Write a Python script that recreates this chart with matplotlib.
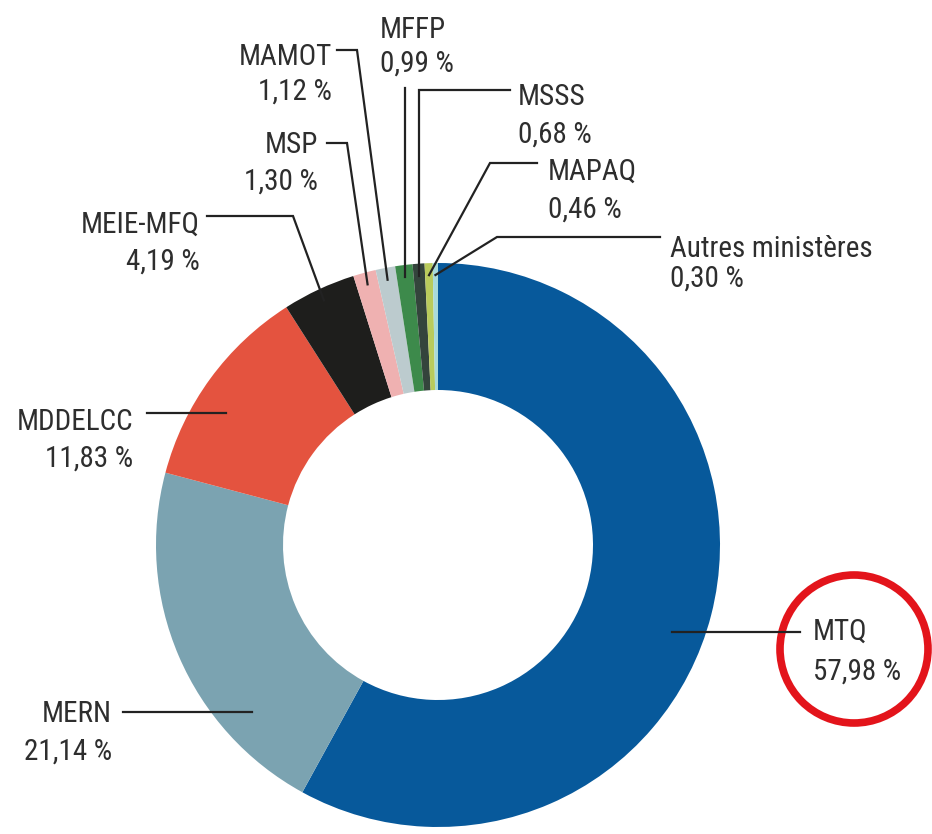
import matplotlib
matplotlib.use('Agg')
import matplotlib.pyplot as plt
from matplotlib.patches import Ellipse
import numpy as np

plt.rcParams['font.family'] = ['Roboto Condensed', 'Archivo Narrow', 'Liberation Sans', 'DejaVu Sans']

# data
ministeres = ['MTQ', 'MERN', 'MDDELCC', 'MEIE-MFQ', 'MSP', 'MAMOT',
              'MFFP', 'MSSS', 'MAPAQ', 'Autres ministères']
parts = [57.98, 21.14, 11.83, 4.19, 1.30, 1.12, 0.99, 0.68, 0.46, 0.30]
pct_labels = ['57,98 %', '21,14 %', '11,83 %', '4,19 %', '1,30 %', '1,12 %',
              '0,99 %', '0,68 %', '0,46 %', '0,30 %']
colors = ['#07599b', '#7ba3b1', '#e4533f', '#1e1e1c', '#efb1b1', '#bccbce',
          '#3d8a4b', '#34443c', '#b9cb5c', '#a9dada']

W, H = 932, 834
cx, cy = 438, H - 545
R = 282
ring = 127

fig = plt.figure(figsize=(W / 100, H / 100), dpi=100)
ax = fig.add_axes([0, 0, 1, 1])
wedges, _ = ax.pie(parts, radius=R, center=(cx, cy), startangle=90,
                   counterclock=False, colors=colors,
                   wedgeprops=dict(width=ring, edgecolor='none'))
ax.set_xlim(0, W)
ax.set_ylim(0, H)
ax.set_aspect('equal')
ax.axis('off')

# label layout (pixel positions, y from top):
# text x, baseline of name, baseline of pct, ha, leader points from text side
layout = {
    'MTQ': (813, 640, 680, 'left', [(800, 632)], 'h'),
    'MERN': (112, 722, 760, 'right', [(123, 712)], 'h'),
    'MDDELCC': (133, 430, 467, 'right', [(147, 413)], 'h'),
    'MEIE-MFQ': (200, 233, 270, 'right', [(207, 216), (293, 216)], 'a'),
    'MSP': (318, 153, 190, 'right', [(327, 143), (347, 143)], 'a'),
    'MAMOT': (332, 65, 100, 'right', [(337, 50), (357, 50)], 'a'),
    'MFFP': (380, 38, 72, 'left', [], 'v88'),
    'MSSS': (518, 105, 143, 'left', [(510, 90)], 'v90'),
    'MAPAQ': (548, 180, 218, 'left', [(537, 163), (490, 163)], 'a'),
    'Autres ministères': (670, 257, 287, 'left', [(660, 237), (497, 237)], 'a'),
}

txt_col = '#2e2e2e'
fs = 21
for w, name, pct in zip(wedges, ministeres, pct_labels):
    tx, yb1, yb2, ha, pts, kind = layout[name]
    ax.text(tx, H - yb1, name, ha=ha, va='baseline', fontsize=fs, color=txt_col)
    ax.text(tx, H - yb2, pct, ha=ha, va='baseline', fontsize=fs, color=txt_col)
    mid = np.deg2rad((w.theta1 + w.theta2) / 2)
    pts = [(x, H - y) for x, y in pts]
    if kind == 'h':
        y = pts[0][1]
        dy = y - cy
        dx = np.sqrt(250 ** 2 - dy ** 2) * np.sign(np.cos(mid))
        end = (cx + dx, y)
    else:
        end = (cx + 270 * np.cos(mid), cy + 270 * np.sin(mid))
        if kind.startswith('v'):
            ytop = H - int(kind[1:])
            pts = pts + [(end[0], ytop)]
    pts = pts + [end]
    xs, ys = zip(*pts)
    ax.plot(xs, ys, color='#222222', lw=1.6, solid_joinstyle='miter')

# red highlight circle around MTQ
ax.add_patch(Ellipse((854, H - 649), 148, 148, fill=False,
                     edgecolor='#e3141b', lw=5.5))

fig.savefig('out.png', dpi=100)
